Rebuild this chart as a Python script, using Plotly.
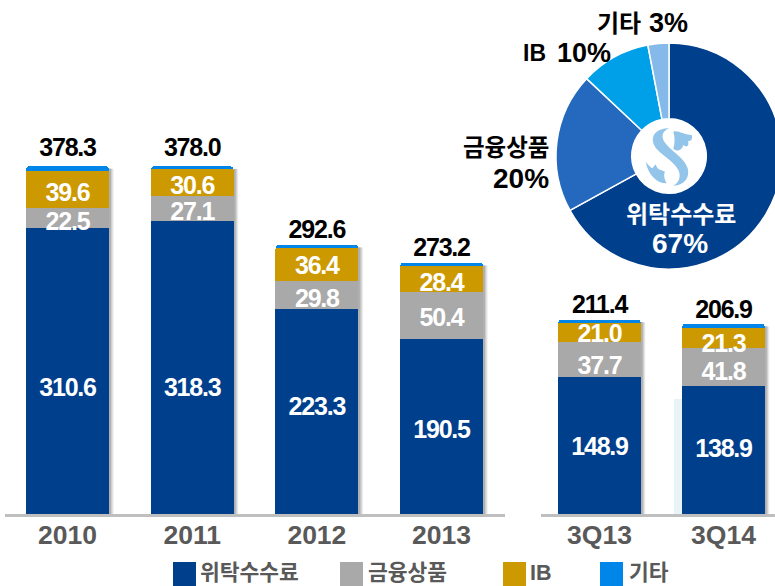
import re
import plotly.graph_objects as go
from plotly.subplots import make_subplots

years = ["2010", "2011", "2012", "2013"]
quarters = ["3Q13", "3Q14"]
series_names = ["위탁수수료", "금융상품", "IB", "기타"]
trust_y = [310.6, 318.3, 223.3, 190.5]
fin_y = [22.5, 27.1, 29.8, 50.4]
ib_y = [39.6, 30.6, 36.4, 28.4]
etc_y = [5.6, 2.0, 3.1, 3.9]
total_y = [378.3, 378.0, 292.6, 273.2]
trust_q = [148.9, 138.9]
fin_q = [37.7, 41.8]
ib_q = [21.0, 21.3]
etc_q = [3.8, 4.9]
total_q = [211.4, 206.9]
pie_names = ["위탁수수료", "금융상품", "IB", "기타"]
pie_values = [67, 20, 10, 3]

# label nudges in pixels (positive = lower on the page), kept apart from the data
nudge_y = {"trust": [19, 22, -3, 5], "fin": [6, 5, 6, 4], "ib": [5, 6, 3, 5], "total": [-4, -4, -1, 0]}
nudge_q = {"trust": [3, 1], "fin": [8, 7], "ib": [3, 8], "total": [0, 1]}

C_TRUST, C_FIN, C_IB, C_ETC = "#003F8C", "#A9A9A9", "#CC9900", "#0086E8"
PIE_COLORS = ["#003F8C", "#2469BD", "#00A0E9", "#85B9EA"]
LATIN = "Liberation Sans, Arial, sans-serif"
MIX = "Liberation Sans, Noto Sans CJK KR, sans-serif"
W, H = 785, 586
BASE_PX = 514
SCALE = 0.92


def px(x):
    return x / W


def py(y):
    return 1 - y / H


fig = make_subplots(rows=1, cols=2, shared_yaxes=False)
colors = [C_TRUST, C_FIN, C_IB, C_ETC]


def add_stack(col, cats, stacks, totals, nudge):
    for name, vals, color in zip(series_names, stacks, colors):
        fig.add_trace(go.Bar(
            x=cats, y=vals, name=name, marker=dict(color=color, line_width=0), width=0.666,
            showlegend=False, hoverinfo="x+y+name",
        ), row=1, col=col)
    base = [0] * len(cats)
    for key, vals in zip(("trust", "fin", "ib"), stacks[:3]):
        mids = [b + v / 2 - n / SCALE for b, v, n in zip(base, vals, nudge[key])]
        base = [b + v for b, v in zip(base, vals)]
        fig.add_trace(go.Scatter(
            x=cats, y=mids, mode="text", text=[f"{v:.1f}" for v in vals],
            textposition="middle center",
            textfont=dict(family=LATIN, size=25, color="white", weight=700),
            showlegend=False, hoverinfo="skip",
        ), row=1, col=col)
    fig.add_trace(go.Scatter(
        x=cats, y=[t - n / SCALE for t, n in zip(totals, nudge["total"])], mode="text",
        text=[f"{v:.1f}" for v in totals], textposition="top center",
        textfont=dict(family=LATIN, size=25, color="black", weight=700),
        showlegend=False, hoverinfo="skip",
    ), row=1, col=col)


add_stack(1, years, [trust_y, fin_y, ib_y, etc_y], total_y, nudge_y)
add_stack(2, quarters, [trust_q, fin_q, ib_q, etc_q], total_q, nudge_q)

fig.add_trace(go.Pie(
    labels=pie_names, values=pie_values, sort=False, direction="clockwise", rotation=0,
    hole=0.33, textinfo="none", showlegend=False,
    marker=dict(colors=PIE_COLORS, line=dict(color="white", width=1.5)),
    domain=dict(x=[px(556), px(782)], y=[py(269), py(43)]),
))

ymax = BASE_PX / SCALE
common = dict(
    showgrid=False, zeroline=False, ticks="", showline=True, linecolor="#BFBFBF", linewidth=3,
    tickfont=dict(family=LATIN, size=26.5, color="#595959", weight=700), ticklabelstandoff=-5,
)
fig.update_xaxes(domain=[px(5), px(505)], range=[-0.5013, 3.509], row=1, col=1, **common)
fig.update_xaxes(domain=[px(541), 1], range=[-0.472, 1.496], row=1, col=2, **common)
fig.update_yaxes(domain=[py(BASE_PX), 1], range=[0, ymax], visible=False, row=1, col=1)
fig.update_yaxes(domain=[py(BASE_PX), 1], range=[0, ymax], visible=False, row=1, col=2)

shapes = []
# pale tint beside the 3Q14 bar
shapes.append(dict(type="rect", layer="below", xref="x2", yref="y2", line_width=0,
                   fillcolor="#EAF3F5", x0=1 - 0.4, x1=1 - 0.333, y0=0, y1=125))
# soft bar shadows, drawn from the stack totals
for xref, yref, tot in (("x", "y", total_y), ("x2", "y2", total_q)):
    for i, t in enumerate(tot):
        for off, col in ((0.036, "#E8E8E8"), (0.026, "#CFCFCF"), (0.016, "#B0B0B0")):
            shapes.append(dict(type="rect", layer="below", xref=xref, yref=yref, line_width=0,
                               fillcolor=col, x0=i - 0.3, x1=i + 0.333 + off, y0=0, y1=t - 3))


def logo(d):
    def conv(m):
        x, y = float(m.group(1)), float(m.group(2))
        return f"{px(625 + x / 3):.5f},{py(115 + y / 3):.5f}"
    return re.sub(r"(\d+),(\d+)", conv, d)


LOGO_PATHS = [
    "M 133,40 C 95,40 78,60 85,85 C 95,115 140,130 160,165 C 170,185 160,205 145,212 "
    "C 180,212 195,185 188,160 C 178,125 130,105 115,75 C 108,58 118,45 133,40 Z",
    "M 145,50 C 160,45 175,60 200,60 C 205,75 195,80 188,78 C 195,90 185,100 175,90 "
    "C 170,110 150,110 145,100 C 150,85 150,65 145,50 Z",
    "M 62,140 C 70,150 75,155 82,160 L 92,148 C 95,158 100,165 108,165 L 120,170 "
    "C 115,180 118,190 125,205 C 95,205 70,180 62,140 Z",
]
for p in LOGO_PATHS:
    shapes.append(dict(type="path", layer="above", xref="paper", yref="paper", line_width=0,
                       fillcolor="#93C4EA", path=logo(p)))

annotations = []


def note(text, x, y, size, color="black", anchor="center", fam=MIX):
    annotations.append(dict(text=text, xref="paper", yref="paper", x=px(x), y=py(y), showarrow=False,
                            xanchor=anchor, yanchor="middle",
                            font=dict(family=fam, size=size, color=color, weight=700)))


note("기타", 595, 23, 24, anchor="left")
note("3%", 647, 23, 27, anchor="left")
note("IB", 521, 53, 23, anchor="left")
note("10%", 555, 53, 27, anchor="left")
note("금융상품", 551, 148, 23.5, anchor="right")
note("20%", 551, 178, 28, anchor="right")
note("위탁수수료", 681, 214, 24, color="white")
note("67%", 680, 243, 28, color="white")

legend_x = [173, 340, 503, 600]
legend_text_x = [198, 366, 528, 627]
for name, col, x0, tx in zip(series_names, colors, legend_x, legend_text_x):
    shapes.append(dict(type="rect", xref="paper", yref="paper", line_width=0, fillcolor=col,
                       x0=px(x0), x1=px(x0 + 23), y0=py(586), y1=py(562)))
    note(name, tx, 573, 21.5, color="#595959", anchor="left")

fig.update_layout(
    width=W, height=H, margin=dict(l=0, r=0, t=0, b=0), autosize=False,
    paper_bgcolor="white", plot_bgcolor="rgba(0,0,0,0)",
    barmode="stack", barcornerradius=4, shapes=shapes, annotations=annotations,
)
fig.write_html("out.html", config=dict(displayModeBar=False), post_script=(
    "document.body.style.margin='0';document.body.style.overflow='hidden';"
    "document.documentElement.style.overflow='hidden';"
    "var s=document.createElement('style');"
    "s.textContent='.textpoint text{letter-spacing:-1.2px}';"
    "document.head.appendChild(s);"
))
